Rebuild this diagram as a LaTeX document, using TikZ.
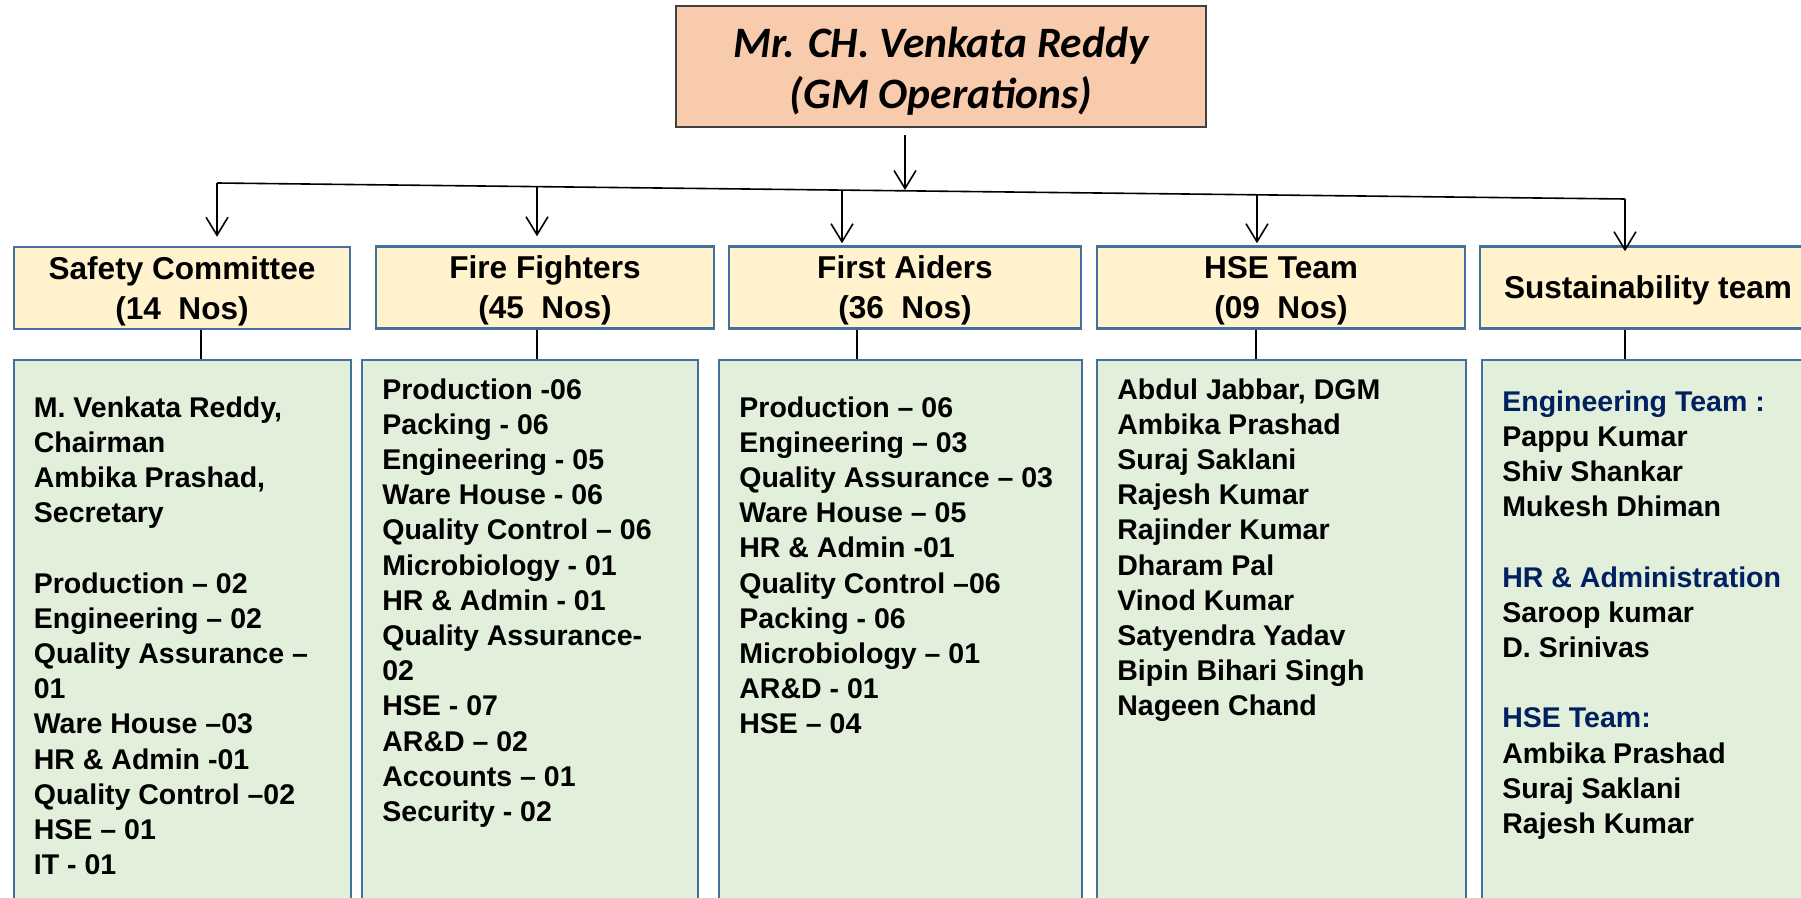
\documentclass[tikz,border=0pt]{standalone}
\usepackage{fontspec}
\setmainfont{Liberation Sans}
\newfontfamily\calibri{Carlito}
\usetikzlibrary{positioning,arrows.meta}
\definecolor{gmfill}{HTML}{F8CBAD}
\definecolor{headfill}{HTML}{FFF2CC}
\definecolor{listfill}{HTML}{E2EFDA}
\definecolor{boxblue}{HTML}{41719C}
\definecolor{teamblue}{HTML}{002060}

\begin{document}
\begin{tikzpicture}[x=0.5pt, y=-0.5pt]
    \tikzstyle{gmbox} = [rectangle, draw=black!75, line width=0.75pt, fill=gmfill,
        minimum width=265pt, minimum height=60.5pt]
    \tikzstyle{gmtext} = [inner sep=0, align=center,
        font=\calibri\bfseries\itshape\fontsize{21.7}{25.5}\selectfont]
    \tikzstyle{team} = [rectangle, draw=boxblue, line width=1.25pt, fill=headfill,
        minimum height=41pt, align=center, text depth=0pt,
        font=\bfseries\fontsize{15.8}{20}\selectfont]
    \tikzstyle{list} = [rectangle, draw=boxblue, line width=1pt, fill=listfill,
        anchor=north west, minimum height=276pt]
    \tikzstyle{names} = [inner sep=0, align=left,
        font=\bfseries\fontsize{14.25}{17.6}\selectfont]
    \tikzstyle{line} = [draw, line width=0.8pt, -{Straight Barb[length=9pt,width=11pt]}]
    \tikzstyle{link} = [draw, line width=0.8pt]

    \useasboundingbox (0,0) rectangle (1801,898);
    \clip (0,0) rectangle (1801,898);

    % GM Operations
    \node[gmbox] (gm) at (941,66.5) {};
    \node[gmtext] (gmname) at (941,71) {Mr. CH. Venkata Reddy\\(GM Operations)};

    % Teams
    \node[team, minimum width=168pt] (safety) at (182,288) {Safety Committee\\(14\ \ Nos)};
    \node[team, minimum width=169pt] (fire) at (545,287.5) {Fire Fighters\\(45\ \ Nos)};
    \node[team, minimum width=176pt] (aid) at (905,287.5) {First Aiders\\(36\ \ Nos)};
    \node[team, minimum width=184pt] (hse) at (1281,287.5) {HSE Team\\(09\ \ Nos)};
    \node[team, minimum width=168pt] (sust) at (1648,287.5) {Sustainability team};

    % Lists
    \node[list, minimum width=168.5pt] (safetylist) at (13,359) {};
    \node[names, below right=18.5pt and 10.25pt of safetylist.north west] (safetytext)
        {M. Venkata Reddy,\\Chairman\\Ambika Prashad,\\Secretary\\[17.6pt]
        Production – 02\\Engineering – 02\\Quality Assurance –\\01\\Ware House –03\\
        HR \& Admin -01\\Quality Control –02\\HSE – 01\\IT - 01};
    \node[list, minimum width=168pt] (firelist) at (361,359) {};
    \node[names, below right=9.5pt and 10.5pt of firelist.north west] (firetext)
        {Production -06\\Packing - 06\\Engineering - 05\\Ware House - 06\\
        Quality Control – 06\\Microbiology - 01\\HR \& Admin - 01\\Quality Assurance-\\02\\
        HSE - 07\\AR\&D – 02\\Accounts – 01\\Security - 02};
    \node[list, minimum width=181.5pt] (aidlist) at (718,359) {};
    \node[names, below right=18.5pt and 10.5pt of aidlist.north west] (aidtext)
        {Production – 06\\Engineering – 03\\Quality Assurance – 03\\Ware House – 05\\
        HR \& Admin -01\\Quality Control –06\\Packing - 06\\Microbiology – 01\\
        AR\&D - 01\\HSE – 04};
    \node[list, minimum width=184.5pt] (hselist) at (1096,359) {};
    \node[names, below right=9.5pt and 10.5pt of hselist.north west] (hsetext)
        {Abdul Jabbar, DGM\\Ambika Prashad\\Suraj Saklani\\Rajesh Kumar\\Rajinder Kumar\\
        Dharam Pal\\Vinod Kumar\\Satyendra Yadav\\Bipin Bihari Singh\\Nageen Chand};
    \node[list, minimum width=169.5pt] (sustlist) at (1481,359) {};
    \node[names, below right=15.5pt and 10.5pt of sustlist.north west] (susttext)
        {\textcolor{teamblue}{Engineering Team :}\\Pappu Kumar\\Shiv Shankar\\Mukesh Dhiman\\[17.6pt]
        \textcolor{teamblue}{HR \& Administration}\\Saroop kumar\\D. Srinivas\\[17.6pt]
        \textcolor{teamblue}{HSE Team:}\\Ambika Prashad\\Suraj Saklani\\Rajesh Kumar};

    % Connectors
    \coordinate (gmout) at (905,135);
    \coordinate (split) at (905,190);
    \coordinate (dsafety) at (217,183);
    \coordinate (dfire) at (537,186.6);
    \coordinate (daid) at (842,190.1);
    \coordinate (dhse) at (1257,194.8);
    \coordinate (dsust) at (1625,199);
    \draw[line] (gmout) -- (split);
    \draw[link] (dsafety) -- (dsust);
    \draw[line, shorten >=4.5pt] (dsafety) -- (dsafety |- safety.north);
    \draw[line, shorten >=4.5pt] (dfire) -- (dfire |- fire.north);
    \draw[line, shorten >=1pt] (daid) -- (daid |- aid.north);
    \draw[line, shorten >=1pt] (dhse) -- (dhse |- hse.north);
    \draw[line, shorten >=-3pt] (dsust) -- (dsust |- sust.north);

    \draw[link] (safety.south -| 201,0) -- (safetylist.north -| 201,0);
    \draw[link] (fire.south -| 537,0) -- (firelist.north -| 537,0);
    \draw[link] (aid.south -| 857,0) -- (aidlist.north -| 857,0);
    \draw[link] (hse.south -| 1256,0) -- (hselist.north -| 1256,0);
    \draw[link] (sust.south -| 1625,0) -- (sustlist.north -| 1625,0);
\end{tikzpicture}
\end{document}
